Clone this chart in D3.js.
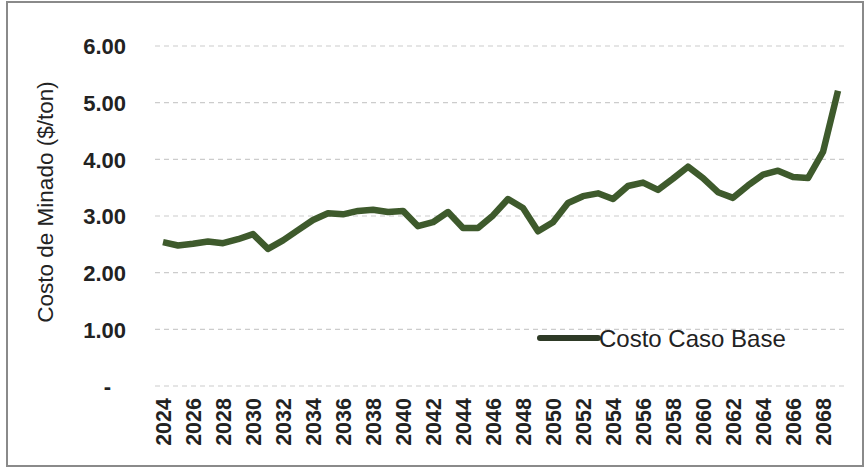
<!DOCTYPE html>
<html>
<head>
<meta charset="utf-8">
<script src="https://cdn.jsdelivr.net/npm/d3@7"></script>
<style>
  html, body { margin: 0; padding: 0; background: #ffffff; }
  svg { display: block; font-family: Arial, "Liberation Sans", sans-serif; }
</style>
</head>
<body>
<svg id="chart" width="866" height="469"></svg>
<script>
const years = d3.range(2024, 2070);
const costoCasoBase = [
  2.54, 2.48, 2.51, 2.55, 2.52, 2.59, 2.68, 2.42, 2.57, 2.75,
  2.93, 3.05, 3.03, 3.09, 3.11, 3.07, 3.09, 2.82, 2.89, 3.07,
  2.79, 2.79, 3.01, 3.30, 3.14, 2.73, 2.89, 3.23, 3.35, 3.40,
  3.30, 3.53, 3.59, 3.46, 3.66, 3.87, 3.67, 3.42, 3.32, 3.54,
  3.73, 3.80, 3.69, 3.67, 4.13, 5.21
];
const yTicks = [0, 1, 2, 3, 4, 5, 6];
const xTickYears = d3.range(2024, 2069, 2);
const seriesName = "Costo Caso Base";
const yTitle = "Costo de Minado ($/ton)";

const svg = d3.select("#chart");

// outer frame
svg.append("rect")
  .attr("x", 7).attr("y", 2).attr("width", 856).attr("height", 464)
  .attr("fill", "none").attr("stroke", "#8a8a8a").attr("stroke-width", 2);

const x = d3.scaleLinear().domain([2024, 2069]).range([163, 838]);
const y = d3.scaleLinear().domain([0, 6]).range([386, 46]);

// gridlines
svg.append("g")
  .selectAll("line")
  .data(yTicks)
  .join("line")
  .attr("x1", 155).attr("x2", 845)
  .attr("y1", d => y(d)).attr("y2", d => y(d))
  .attr("stroke", "#cccccc")
  .attr("stroke-width", 1.2)
  .attr("stroke-dasharray", "5,4");

// y axis labels
const yAxis = d3.axisLeft(y)
  .tickValues(yTicks)
  .tickSize(0)
  .tickPadding(0)
  .tickFormat(d => d === 0 ? "-" : d3.format(".2f")(d));
const gy = svg.append("g").attr("transform", "translate(126,0)").call(yAxis);
gy.select(".domain").remove();
gy.selectAll("text")
  .attr("font-family", "Arial, 'Liberation Sans', sans-serif")
  .attr("font-size", 22)
  .attr("font-weight", "bold")
  .attr("fill", "#222")
  .attr("dy", "0.36em")
  .attr("dx", d => d === 0 ? -15 : 0);

// x axis labels
const xAxis = d3.axisBottom(x)
  .tickValues(xTickYears)
  .tickSize(0)
  .tickFormat(d3.format("d"));
const gx = svg.append("g").attr("transform", "translate(0,398)").call(xAxis);
gx.select(".domain").remove();
gx.selectAll("text")
  .attr("font-family", "Arial, 'Liberation Sans', sans-serif")
  .attr("font-size", 21.5)
  .attr("font-weight", "bold")
  .attr("fill", "#222")
  .attr("text-anchor", "end")
  .attr("transform", "rotate(-90)")
  .attr("x", 0)
  .attr("y", 0)
  .attr("dx", 0)
  .attr("dy", "0.36em");

// y axis title
svg.append("text")
  .attr("transform", "translate(45,202) rotate(-90)")
  .attr("text-anchor", "middle")
  .attr("dy", "0.36em")
  .attr("font-size", 22.5)
  .attr("fill", "#222")
  .text(yTitle);

// series line
const line = d3.line()
  .x((d, i) => x(years[i]))
  .y(d => y(d));
svg.append("path")
  .datum(costoCasoBase)
  .attr("d", line)
  .attr("fill", "none")
  .attr("stroke", "#3e5a2c")
  .attr("stroke-width", 6.5)
  .attr("stroke-linejoin", "round")
  .attr("stroke-linecap", "butt");

// legend
const lg = svg.append("g").attr("transform", "translate(540,338)");
lg.append("line")
  .attr("x1", 0).attr("x2", 58).attr("y1", 0).attr("y2", 0)
  .attr("stroke", "#2e3a26").attr("stroke-width", 6)
  .attr("stroke-linecap", "round");
lg.append("text")
  .attr("x", 59).attr("y", 0).attr("dy", "0.36em")
  .attr("font-size", 24)
  .attr("fill", "#222")
  .text(seriesName);
</script>
</body>
</html>
